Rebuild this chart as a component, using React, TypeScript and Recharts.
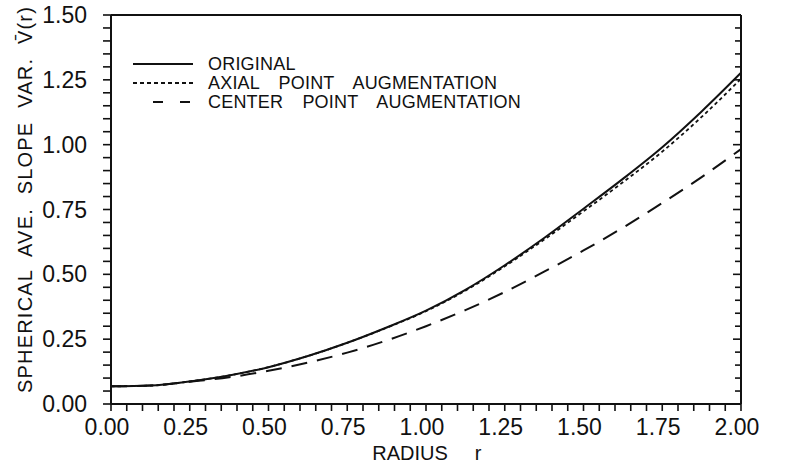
import { LineChart, Line, XAxis, YAxis, ReferenceLine, Legend } from "recharts";

// radius r and the spherical average slope variance of each design
const radius = [0, 0.125, 0.25, 0.375, 0.5, 0.625, 0.75, 0.875, 1.0, 1.125, 1.25, 1.375, 1.5, 1.625, 1.75, 1.875, 2.0];
const original = [0.068, 0.071, 0.087, 0.11, 0.142, 0.185, 0.236, 0.295, 0.36, 0.44, 0.535, 0.64, 0.753, 0.868, 0.99, 1.128, 1.277];
const axial = [0.068, 0.071, 0.087, 0.11, 0.142, 0.185, 0.236, 0.294, 0.358, 0.437, 0.531, 0.634, 0.743, 0.855, 0.973, 1.107, 1.254];
const center = [0.068, 0.071, 0.086, 0.103, 0.128, 0.16, 0.198, 0.245, 0.3, 0.362, 0.432, 0.51, 0.592, 0.68, 0.775, 0.875, 0.983];

const xMajor = [0, 0.25, 0.5, 0.75, 1.0, 1.25, 1.5, 1.75, 2.0];
const yMajor = [0, 0.25, 0.5, 0.75, 1.0, 1.25, 1.5];

const data = radius.map((r, i) => ({ r, original: original[i], axial: axial[i], center: center[i] }));

// minor ticks every 0.05 on both axes, labels only on the majors
const xTicks = Array.from({ length: 41 }, (_, i) => i / 20);
const yTicks = Array.from({ length: 31 }, (_, i) => i / 20);
const isMajor = (v: number, majors: number[]) => majors.some((m) => Math.abs(m - v) < 1e-6);
const xLabel = (v: number) => (isMajor(v, xMajor) ? v.toFixed(2) : "");
const yLabel = (v: number) => (isMajor(v, yMajor) ? v.toFixed(2) : "");

// plot width in px, to give the inward right-hand ticks a length in axis units
const PLOT_W = 630;
const dx = (px: number) => (px / PLOT_W) * 2;

const FONT = '"Liberation Sans", Arial, Helvetica, sans-serif';
const INK = "#111";
const tickText = { fontSize: 23, fill: INK, fontFamily: FONT };
const tickMark = { stroke: INK, strokeWidth: 1.6 };
const axisStroke = { stroke: INK, strokeWidth: 2 };

const series = [
  { key: "original", name: "ORIGINAL", dash: undefined as string | undefined, width: 2, legendFrom: 133, legendDash: undefined as string | undefined },
  { key: "axial", name: "AXIAL POINT AUGMENTATION", dash: "3.5 3", width: 1.8, legendFrom: 133, legendDash: "4 3" },
  { key: "center", name: "CENTER POINT AUGMENTATION", dash: "16 10", width: 2, legendFrom: 153, legendDash: "10 17" },
];

function YTitle({ viewBox }: any) {
  const cx = viewBox.x + 14;
  const cy = viewBox.y + viewBox.height / 2 - 10;
  return (
    <text
      x={cx}
      y={cy}
      transform={`rotate(-90 ${cx} ${cy})`}
      textAnchor="middle"
      dominantBaseline="central"
      fontFamily={FONT}
      fontSize={20}
      letterSpacing={1.2}
      wordSpacing={7}
      fill={INK}
    >
      SPHERICAL AVE. SLOPE VAR. V{"\u0304"}(r)
    </text>
  );
}

function XTitle({ viewBox }: any) {
  const mid = viewBox.x + viewBox.width / 2;
  const base = viewBox.y + 56;
  return (
    <g fontFamily={FONT} fontSize={20} fill={INK}>
      <text x={mid - 16} y={base} textAnchor="middle">RADIUS</text>
      <text x={mid + 52} y={base} textAnchor="middle">r</text>
    </g>
  );
}

function KeyBox() {
  return (
    <svg width={440} height={70}>
      {series.map((s, i) => {
        const y = 14 + i * 19;
        return (
          <g key={s.key}>
            <line x1={s.legendFrom - 120} x2={73} y1={y} y2={y} stroke={INK} strokeWidth={2} strokeDasharray={s.legendDash} />
            <text x={88} y={y + 6} fontFamily={FONT} fontSize={18} letterSpacing={0.2} wordSpacing={14} fill={INK}>
              {s.name}
            </text>
          </g>
        );
      })}
    </svg>
  );
}

export default function App() {
  return (
    <div style={{ position: "absolute", left: 0, top: 0, width: 808, height: 466, background: "#fff" }}>
      <LineChart width={808} height={466} data={data} margin={{ top: 15, right: 7, bottom: 22, left: 11 }}>
        <XAxis
          dataKey="r"
          type="number"
          domain={[0, 2]}
          ticks={xTicks}
          interval={0}
          tickFormatter={xLabel}
          tick={{ ...tickText, dx: -4 }}
          tickLine={tickMark}
          tickSize={7}
          tickMargin={8}
          height={40}
          axisLine={axisStroke}
          label={<XTitle />}
        />
        <YAxis
          yAxisId="left"
          type="number"
          domain={[0, 1.5]}
          ticks={yTicks}
          interval={0}
          tickFormatter={yLabel}
          tick={tickText}
          tickLine={tickMark}
          tickSize={8}
          tickMargin={16}
          width={100}
          axisLine={axisStroke}
          label={<YTitle />}
        />
        <YAxis
          yAxisId="right"
          orientation="right"
          type="number"
          domain={[0, 1.5]}
          ticks={yTicks}
          interval={0}
          tickFormatter={yLabel}
          tick={tickText}
          tickLine={false}
          tickSize={7}
          tickMargin={4}
          width={60}
          axisLine={axisStroke}
        />
        <ReferenceLine yAxisId="left" y={1.5} stroke={INK} strokeWidth={2} />

        {/* right-hand ticks point into the plot */}
        {yTicks.map((v) => (
          <ReferenceLine
            key={`yr${v}`}
            yAxisId="left"
            stroke={INK}
            strokeWidth={1.6}
            segment={[{ x: 2 - dx(isMajor(v, yMajor) ? 8 : 6), y: v }, { x: 2, y: v }]}
          />
        ))}

        <Legend
          layout="horizontal"
          verticalAlign="middle"
          align="center"
          content={<KeyBox />}
          wrapperStyle={{ left: 120, top: 50, width: 440, height: 70 }}
        />
        {series.map((s) => (
          <Line
            key={s.key}
            yAxisId="left"
            dataKey={s.key}
            name={s.name}
            type="monotone"
            stroke={INK}
            strokeWidth={s.width}
            strokeDasharray={s.dash}
            dot={false}
            activeDot={false}
            isAnimationActive={false}
          />
        ))}
      </LineChart>
    </div>
  );
}
